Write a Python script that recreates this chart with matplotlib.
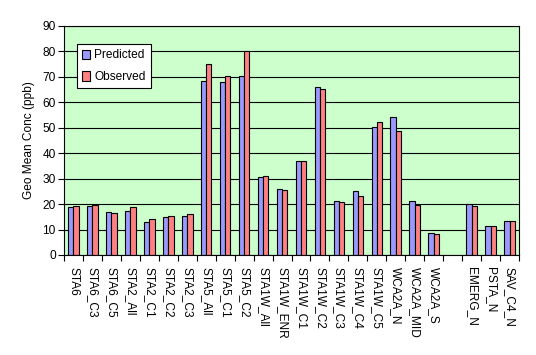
import numpy as np
import matplotlib.pyplot as plt

plt.rcParams['font.family'] = ['Liberation Sans', 'DejaVu Sans']
plt.rcParams['font.size'] = 8.6

sites = ['STA6', 'STA6_C3', 'STA6_C5', 'STA2_All', 'STA2_C1', 'STA2_C2', 'STA2_C3',
         'STA5_All', 'STA5_C1', 'STA5_C2', 'STA1W_All', 'STA1W_ENR', 'STA1W_C1',
         'STA1W_C2', 'STA1W_C3', 'STA1W_C4', 'STA1W_C5', 'WCA2A_N', 'WCA2A_MID',
         'WCA2A_S', '', 'EMERG_N', 'PSTA_N', 'SAV_C4_N']
predicted = [18.7, 19.1, 16.8, 17.3, 12.8, 14.8, 15.2, 68.3, 67.9, 70.2, 30.5, 25.8,
             36.8, 65.9, 21.1, 25.0, 50.2, 54.1, 21.1, 8.5, np.nan, 19.9, 11.3, 13.2]
observed = [19.1, 19.6, 16.4, 18.7, 14.0, 15.2, 16.0, 74.9, 70.2, 80.0, 30.9, 25.4,
            36.8, 65.1, 20.7, 23.1, 52.1, 48.6, 19.5, 8.1, np.nan, 19.1, 11.3, 13.2]

fig = plt.figure(figsize=(5.36, 3.55), dpi=100)
ax = fig.add_axes([0.1194, 0.2817, 0.8489, 0.6451])
ax.set_facecolor('#CCFFCC')

x = np.arange(len(sites))
w = 0.28
ax.bar(x - w / 2, predicted, width=w, color='#9999FF', edgecolor='black',
       linewidth=0.8, label='Predicted', zorder=2)
ax.bar(x + w / 2, observed, width=w, color='#FF8080', edgecolor='black',
       linewidth=0.8, label='Observed', zorder=2)

ax.set_xlim(-0.5, len(sites) - 0.5)
ax.set_ylim(0, 90)
ax.set_yticks(np.arange(0, 91, 10))
ax.yaxis.grid(True, color='black', linewidth=0.8, zorder=1)
ax.set_axisbelow(True)

ax.set_xticks(x)
ax.set_xticklabels(sites, rotation=270, va='top', ha='center')
ax.set_xticks(np.arange(-0.5, len(sites), 1), minor=True)
ax.tick_params(axis='x', which='major', length=0, pad=9)
ax.tick_params(axis='x', which='minor', length=4, width=0.8, direction='out')
ax.tick_params(axis='y', length=4, width=0.8, direction='out', pad=2)

for s in ax.spines.values():
    s.set_color('black')
    s.set_linewidth(0.8)

ax.set_ylabel('Geo Mean Conc (ppb)', labelpad=5)

leg = ax.legend(loc='upper left', bbox_to_anchor=(0.0286, 0.921), borderaxespad=0,
                fancybox=False, framealpha=1, edgecolor='black', handlelength=0.65,
                handleheight=0.85, handletextpad=0.35, labelspacing=0.8,
                borderpad=0.45, fontsize=8.6)
leg.get_frame().set_linewidth(0.8)

fig.savefig('out.png')
